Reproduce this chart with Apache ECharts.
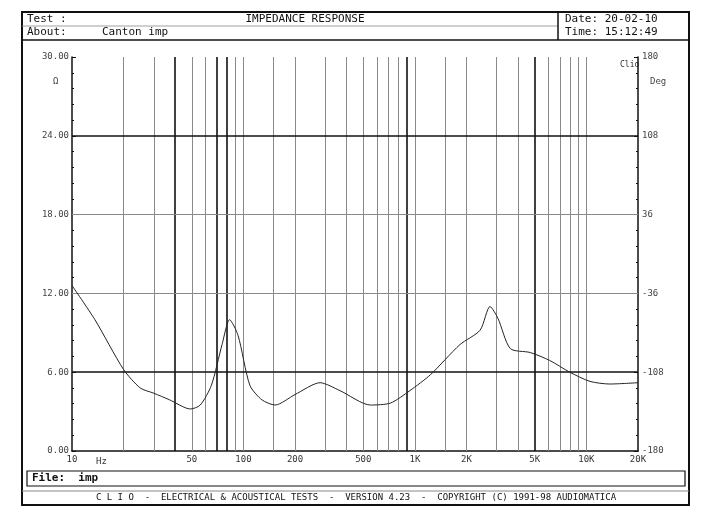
<!DOCTYPE html>
<html><head><meta charset="utf-8">
<script src="https://cdn.jsdelivr.net/npm/echarts@6/dist/echarts.min.js"></script>
<style>html,body{margin:0;padding:0;background:#fff}#c{width:705px;height:522px}</style>
</head><body><div id="c"></div>
<script>
const freqs = [10,13.6,20,25,30,37,49,56,65,75,83,93,109,128,153,200,280,365,550,720,935,1230,1830,2400,2740,3050,3600,4700,6100,8000,10500,13700,20000];
const ohms  = [12.6,10.0,6.2,4.8,4.4,3.9,3.2,3.5,5.0,8.1,10.0,8.8,5.0,3.9,3.5,4.3,5.2,4.6,3.5,3.65,4.6,5.8,8.1,9.2,11.0,10.1,7.8,7.5,6.9,6.0,5.3,5.1,5.2];
const thinGrid = [20,30,50,60,90,100,150,200,300,400,500,600,700,800,1000,1500,2000,3000,4000,6000,7000,8000,9000,10000];
const thickGrid = [40,70,80,900,5000];
const xTickVals = [10,50,100,200,500,1000,2000,5000,10000,20000];
const xTickLabels = ['10','50','100','200','500','1K','2K','5K','10K','20K'];
const hThick = [6,24], hThin = [12,18];

const F = 'DejaVu Sans Mono';
const ch = echarts.init(document.getElementById('c'));
const ml = [];
thinGrid.forEach(v=>ml.push({xAxis:v,lineStyle:{color:'#8a8a8a',width:1,type:'solid'}}));
thickGrid.forEach(v=>ml.push({xAxis:v,lineStyle:{color:'#111',width:1.6,type:'solid'}}));
hThin.forEach(v=>ml.push({yAxis:v,lineStyle:{color:'#8a8a8a',width:1,type:'solid'}}));
hThick.forEach(v=>ml.push({yAxis:v,lineStyle:{color:'#111',width:1.6,type:'solid'}}));
const lbl = xTickVals.map((v,i)=>({xAxis:v,lineStyle:{color:'rgba(0,0,0,0)',width:0},label:{show:true,position:'start',formatter:xTickLabels[i],distance:4,color:'#333',fontFamily:F,fontSize:9}}));
ch.setOption({
  animation:false,
  grid:{left:72,right:67,top:57,bottom:71},
  xAxis:{type:'log',logBase:10,min:10,max:20000,axisLabel:{show:false},axisTick:{show:false},splitLine:{show:false},axisLine:{lineStyle:{color:'#111',width:1.5}}},
  yAxis:[{type:'value',min:0,max:30,interval:6,position:'left',
    axisLabel:{formatter:v=>v.toFixed(2),fontFamily:F,fontSize:9,color:'#444',margin:3},
    axisTick:{show:true,inside:true,length:4,lineStyle:{color:'#111'}},minorTick:{show:true,splitNumber:5,length:2,lineStyle:{color:'#111'}},
    splitLine:{show:false},axisLine:{show:true,lineStyle:{color:'#111',width:1.5}}},
   {type:'value',min:-180,max:180,interval:72,position:'right',
    axisLabel:{fontFamily:F,fontSize:9,color:'#444',margin:4},
    axisTick:{show:true,inside:true,length:4,lineStyle:{color:'#111'}},minorTick:{show:true,splitNumber:5,length:2,lineStyle:{color:'#111'}},
    splitLine:{show:false},axisLine:{show:true,lineStyle:{color:'#111',width:1.5}}}],
  series:[
    {type:'line',data:[],markLine:{silent:true,symbol:'none',label:{show:false},data:ml.concat(lbl)}},
    {type:'line',smooth:0.25,symbol:'none',data:freqs.map((f,i)=>[f,ohms[i]]),lineStyle:{color:'#222',width:1},z:5}
  ],
  graphic:[
    {type:'rect',shape:{x:22,y:12,width:667,height:493},style:{fill:'none',stroke:'#111',lineWidth:2}},
    {type:'line',shape:{x1:22,y1:40,x2:689,y2:40},style:{stroke:'#111',lineWidth:1.5}},
    {type:'line',shape:{x1:22,y1:26,x2:558,y2:26},style:{stroke:'#888',lineWidth:0.8}},
    {type:'line',shape:{x1:558,y1:12,x2:558,y2:40},style:{stroke:'#111',lineWidth:1.5}},
    {type:'text',style:{x:27,y:14,text:'Test :',font:'11px '+F,fill:'#111'}},
    {type:'text',style:{x:27,y:27,text:'About:',font:'11px '+F,fill:'#111'}},
    {type:'text',style:{x:102,y:27,text:'Canton imp',font:'11px '+F,fill:'#111'}},
    {type:'text',style:{x:305,y:14,text:'IMPEDANCE RESPONSE',font:'11px '+F,fill:'#111',align:'center'}},
    {type:'text',style:{x:565,y:14,text:'Date: 20-02-10',font:'11px '+F,fill:'#111'}},
    {type:'text',style:{x:565,y:27,text:'Time: 15:12:49',font:'11px '+F,fill:'#111'}},
    {type:'text',style:{x:53,y:77,text:'Ω',font:'9px '+F,fill:'#444'}},
    {type:'text',style:{x:650,y:77,text:'Deg',font:'9px '+F,fill:'#444'}},
    {type:'text',style:{x:620,y:61,text:'Clio',font:'8px '+F,fill:'#333'}},
    {type:'text',style:{x:96,y:457,text:'Hz',font:'9px '+F,fill:'#333'}},
    {type:'rect',shape:{x:27,y:471,width:658,height:15},style:{fill:'none',stroke:'#111',lineWidth:1.2}},
    {type:'text',style:{x:32,y:473,text:'File:  imp',font:'bold 11px '+F,fill:'#111'}},
    {type:'line',shape:{x1:22,y1:491,x2:689,y2:491},style:{stroke:'#888',lineWidth:1}},
    {type:'text',style:{x:356,y:493,text:'C L I O  -  ELECTRICAL & ACOUSTICAL TESTS  -  VERSION 4.23  -  COPYRIGHT (C) 1991-98 AUDIOMATICA',font:'9px '+F,fill:'#111',align:'center'}}
  ]
});
</script></body></html>
